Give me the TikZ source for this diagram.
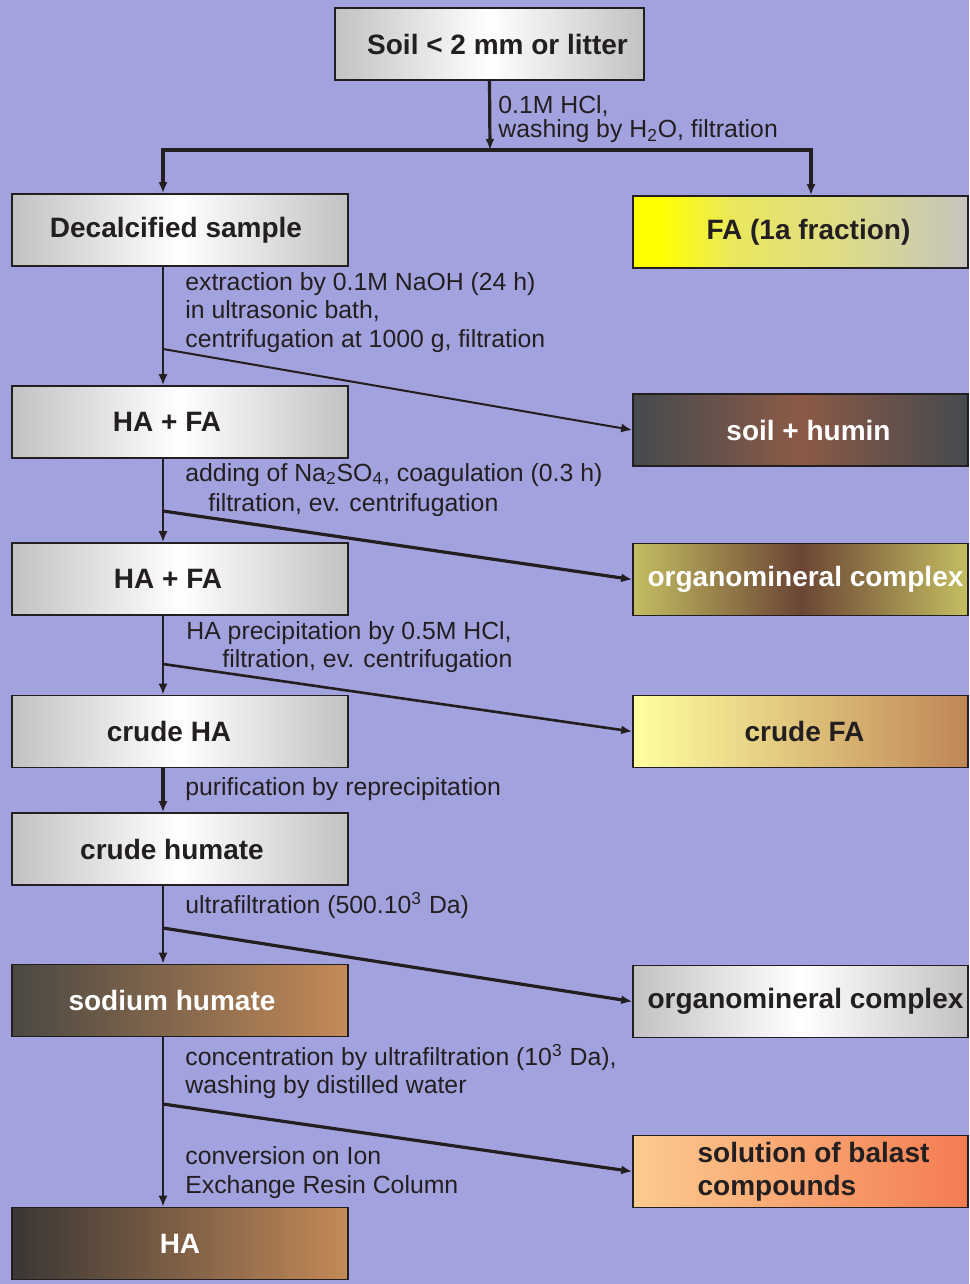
\documentclass[tikz,border=0pt]{standalone}
\usepackage{fontspec}
\setmainfont{Liberation Sans}
\usetikzlibrary{arrows.meta}
\definecolor{bg}{HTML}{A2A2DF}
\definecolor{ln}{HTML}{231F20}
\definecolor{gl}{HTML}{C2C2C2}
\definecolor{fay}{HTML}{FFFF00}
\definecolor{fa1}{HTML}{EAE85E}
\definecolor{fa2}{HTML}{DCDA8C}
\definecolor{fa3}{HTML}{C4C4BE}
\definecolor{hu1}{HTML}{454A4F}
\definecolor{hu2}{HTML}{8C5A46}
\definecolor{om1}{HTML}{C4BE62}
\definecolor{om2}{HTML}{6B4534}
\definecolor{cf1}{HTML}{FFFFA0}
\definecolor{cf2}{HTML}{BF8656}
\definecolor{nh1}{HTML}{4A4842}
\definecolor{nh2}{HTML}{C48A58}
\definecolor{ha1}{HTML}{3A3634}
\definecolor{ba1}{HTML}{FCCB8E}
\definecolor{ba2}{HTML}{F47C52}
\pgfdeclarehorizontalshading{fashade}{100bp}{color(0bp)=(fay); color(29bp)=(fay);
  color(40bp)=(fa1); color(58bp)=(fa2); color(75bp)=(fa3); color(100bp)=(fa3)}

\begin{document}
\begin{tikzpicture}[x=0.5pt,y=-0.5pt,>={Latex[length=5.5pt,width=4.5pt]},
  box/.style={draw=ln,line width=0.8pt,minimum width=168pt,minimum height=36pt,
    inner sep=0pt,text=ln,font=\bfseries\fontsize{14}{16.5}\selectfont},
  rbox/.style={box,minimum width=167.5pt},
  silver/.style={left color=gl,right color=gl,middle color=white},
  lbl/.style={anchor=base west,inner sep=0pt,text=ln,font=\fontsize{12.4}{14}\selectfont},
  flow/.style={draw=ln,line width=1pt,->},
  heavy/.style={flow,line width=1.6pt}]
  \useasboundingbox (0,0) rectangle (969,1284);
  \fill[bg] (0,0) rectangle (969,1284);

  % start
  \node[box,silver,minimum width=154.5pt] (soil) at (489.5,44) {\hspace{8pt}Soil < 2 mm or litter};

  % main line
  \node[box,silver] (dec) at (180,230) {Decalcified sample\kern4pt};
  \node[box,silver] (hafa) at (180,422) {HA + FA\kern13pt};
  \node[box,silver] (hafb) at (180,579) {HA + FA\kern12pt};
  \node[box,silver] (cha) at (180,731.5) {crude HA\kern11pt};
  \node[box,silver] (chum) at (180,849) {crude humate\kern8pt};
  \node[box,left color=nh1,right color=nh2,text=white] (nahum) at (180,1000.5) {sodium humate\kern8pt};
  \node[box,left color=ha1,right color=nh2,text=white] (ha) at (180,1243.5) {HA};

  % side products
  \node[rbox,shading=fashade] (fa) at (800.5,232) {\hspace{8pt}FA (1a fraction)};
  \node[rbox,left color=hu1,right color=hu1,middle color=hu2,text=white] (humin) at (800.5,430) {\hspace{8pt}soil + humin};
  \node[rbox,left color=om1,right color=om1,middle color=om2,text=white] (omca) at (800.5,579.5) {\hspace{5pt}organomineral complex};
  \node[rbox,left color=cf1,right color=cf2] (cfa) at (800.5,731.5) {\hspace{4pt}crude FA};
  \node[rbox,silver] (omcb) at (800.5,1001.5) {\hspace{5pt}organomineral complex};
  \node[rbox,left color=ba1,right color=ba2,align=left] (bal) at (800.5,1171.5)
    {\hspace*{13pt}solution of balast\\\hspace*{13pt}compounds};

  % split after decalcification
  \coordinate (bar) at (490,150);
  \coordinate (barl) at (163,150);
  \coordinate (barr) at (811,150);
  \draw[heavy] (soil.south) -- (bar);
  \draw[flow,line width=1.9pt,<->] (barl |- dec.north) -- (barl) -- (barr) -- (barr |- fa.north);

  % spine with branches
  \coordinate (b1) at (163,349);
  \coordinate (b2) at (163,511);
  \coordinate (b3) at (163,664);
  \coordinate (b4) at (163,928);
  \coordinate (b5) at (163,1104);
  \draw[flow] (b1 |- dec.south) -- (b1) -- (b1 |- hafa.north);
  \draw[flow] (b1) -- (humin.west);
  \draw[flow] (b2 |- hafa.south) -- (b2) -- (b2 |- hafb.north);
  \draw[heavy] (b2) -- (omca.west);
  \draw[flow] (b3 |- hafb.south) -- (b3) -- (b3 |- cha.north);
  \draw[flow,line width=1.3pt] (b3) -- (cfa.west);
  \draw[heavy] (b3 |- cha.south) -- (b3 |- chum.north);
  \draw[flow] (b4 |- chum.south) -- (b4) -- (b4 |- nahum.north);
  \draw[heavy] (b4) -- (omcb.west);
  \draw[flow] (b5 |- nahum.south) -- (b5) -- (b5 |- ha.north);
  \draw[heavy] (b5) -- (bal.west);

  % step labels
  \node[lbl] (l0a) at (498,113) {0.1M HCl,};
  \node[lbl] (l0b) at (498,138) {washing by H\textsubscript{2}O, filtration};
  \node[lbl] (l1a) at (185,290) {extraction by 0.1M NaOH (24 h)};
  \node[lbl] (l1b) at (185,318) {in ultrasonic bath,};
  \node[lbl] (l1c) at (185,347) {centrifugation at 1000 g, filtration};
  \node[lbl] (l2a) at (185,481) {adding of Na\textsubscript{2}SO\textsubscript{4}, coagulation (0.3 h)};
  \node[lbl] (l2b) at (208,511) {filtration, ev. centrifugation};
  \node[lbl] (l3a) at (186,639) {HA precipitation by 0.5M HCl,};
  \node[lbl] (l3b) at (222,667) {filtration, ev. centrifugation};
  \node[lbl] (l4) at (185,795) {purification by reprecipitation};
  \node[lbl] (l5) at (185,913) {ultrafiltration (500.10\textsuperscript{3} Da)};
  \node[lbl] (l6a) at (185,1065) {concentration by ultrafiltration (10\textsuperscript{3} Da),};
  \node[lbl] (l6b) at (185,1093) {washing by distilled water};
  \node[lbl] (l7a) at (185,1164) {conversion on Ion};
  \node[lbl] (l7b) at (185,1193) {Exchange Resin Column};
\end{tikzpicture}
\end{document}
